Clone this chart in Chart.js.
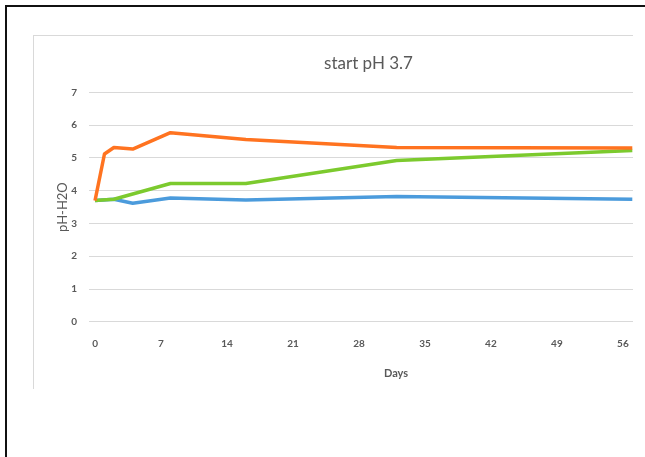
<!DOCTYPE html>
<html>
<head>
<meta charset="utf-8">
<script src="https://cdn.jsdelivr.net/npm/chart.js@4.4.1/dist/chart.umd.min.js"></script>
<style>
  html, body { margin: 0; padding: 0; background: #fff; }
  body { width: 645px; height: 457px; position: relative; overflow: hidden; }
  #frame { position: absolute; left: 5px; top: 5px; width: 660px; height: 470px;
           border-left: 2px solid #111; border-top: 2px solid #111; }
  #box { position: absolute; left: 33px; top: 35px; width: 599px; height: 353px;
         border-left: 1px solid #d9d9d9; border-top: 1px solid #d9d9d9; overflow: hidden; }
  #wrap { position: absolute; left: 0; top: 0; width: 678px; height: 353px; }
</style>
</head>
<body>
<div id="frame"></div>
<div id="box"><div id="wrap"><canvas id="phChart"></canvas></div></div>
<script>
const days = [0, 1, 2, 4, 8, 16, 32, 57];
const orangeSeries = [3.7, 5.12, 5.32, 5.27, 5.77, 5.56, 5.32, 5.3];
const greenSeries = [3.7, null, 3.74, null, 4.22, 4.22, 4.92, 5.23];
const blueSeries = [3.7, null, 3.74, 3.62, 3.78, 3.72, 3.82, 3.74];
const xTicks = [0, 7, 14, 21, 28, 35, 42, 49, 56, 63];
const yTicks = [0, 1, 2, 3, 4, 5, 6, 7];

const toPoints = (vals) => days.map((d, i) => ({ x: d, y: vals[i] }));

const grey = "#595959";

document.addEventListener("DOMContentLoaded", () => {
    const ctx = document.getElementById("phChart");
    if (!ctx) return;

    const line = (label, vals, color) => ({
        label: label,
        data: toPoints(vals),
        borderColor: color,
        backgroundColor: color,
        borderWidth: 3.5,
        pointRadius: 0,
        showLine: true,
        spanGaps: true,
        tension: 0,
        borderJoinStyle: "round",
    });

    new Chart(ctx, {
        type: "scatter",
        data: {
            datasets: [
                line("orange", orangeSeries, "#ff7320"),
                line("green", greenSeries, "#7cca2e"),
                line("blue", blueSeries, "#4b9bdc"),
            ],
        },
        options: {
            responsive: true,
            maintainAspectRatio: false,
            animation: false,
            layout: { padding: { left: 0, right: 9, top: 0, bottom: 9 } },
            plugins: {
                legend: { display: false },
                tooltip: { enabled: false },
                title: {
                    display: true,
                    text: "start pH 3.7",
                    color: grey,
                    font: { family: "Lato", size: 17, weight: "normal" },
                    padding: { top: 17, bottom: 19 },
                },
            },
            scales: {
                x: {
                    type: "linear",
                    min: -0.64,
                    max: 64.5,
                    afterBuildTicks: (s) => { s.ticks = xTicks.map((v) => ({ value: v })); },
                    grid: { display: false, drawTicks: false },
                    border: { display: false },
                    ticks: {
                        color: grey,
                        padding: 16,
                        maxRotation: 0,
                        font: { family: "Lato", size: 10, weight: "bold" },
                    },
                    title: {
                        display: true,
                        text: "Days",
                        color: grey,
                        font: { family: "Lato", size: 11, weight: "bold" },
                        padding: { top: 1, bottom: 0 },
                    },
                },
                y: {
                    min: 0,
                    max: 7,
                    afterBuildTicks: (s) => { s.ticks = yTicks.map((v) => ({ value: v })); },
                    afterFit: (s) => { s.width = 55; },
                    grid: { color: "#d9d9d9", lineWidth: 1, drawTicks: false },
                    border: { display: false },
                    ticks: {
                        color: grey,
                        padding: 12,
                        font: { family: "Lato", size: 10, weight: "bold" },
                    },
                    title: {
                        display: true,
                        text: "pH-H2O",
                        color: grey,
                        font: { family: "Lato", size: 13 },
                        padding: { top: 21, bottom: 0 },
                    },
                },
            },
        },
    });
});
</script>
</body>
</html>
